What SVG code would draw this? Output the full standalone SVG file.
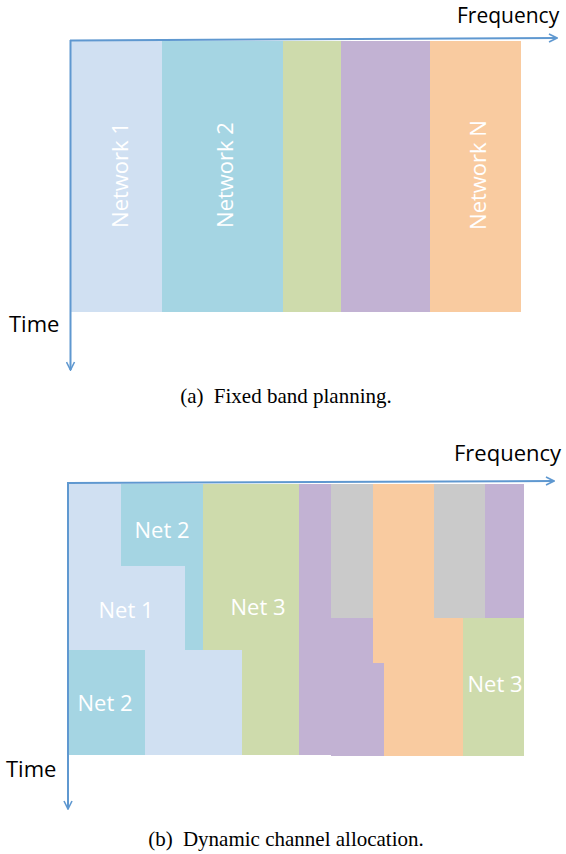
<svg xmlns="http://www.w3.org/2000/svg" width="566" height="854" viewBox="0 0 566 854">
<style>
.lb{fill:#D0E0F2}.tl{fill:#A5D5E3}.gr{fill:#CEDBAC}.pu{fill:#C2B2D3}.or{fill:#F9CBA0}.gy{fill:#CACACA}
.ax{stroke:#5F98D0;stroke-width:2;fill:none}
.lbl{font-family:"Open Sans","Liberation Sans",sans-serif;font-size:22px;fill:#FFFFFF;text-anchor:middle}
.axl{font-family:"Open Sans","Liberation Sans",sans-serif;font-size:22px;fill:#000000}
.cap{font-family:"Liberation Serif","DejaVu Serif",serif;font-size:21px;fill:#000000;text-anchor:middle}
</style>
<defs>
<marker id="arr" viewBox="0 0 10 10" refX="9" refY="5" markerWidth="5" markerHeight="5" orient="auto" markerUnits="strokeWidth">
<path d="M1,1 L9,5 L1,9" fill="none" stroke="#5F98D0" stroke-width="1.6"/>
</marker>
</defs>

<!-- (a) Fixed band planning -->
<g id="a-network1"><rect class="lb" x="71" y="41" width="91" height="271"/>
<text class="lbl" transform="translate(128,175) rotate(-90)">Network 1</text></g>
<g id="a-network2"><rect class="tl" x="162" y="41" width="121" height="271"/>
<text class="lbl" transform="translate(233,175) rotate(-90)">Network 2</text></g>
<g id="a-band3"><rect class="gr" x="283" y="41" width="58" height="271"/></g>
<g id="a-band4"><rect class="pu" x="341" y="41" width="89" height="271"/></g>
<g id="a-networkN"><rect class="or" x="430" y="41" width="91" height="271"/>
<text class="lbl" transform="translate(486,175) rotate(-90)">Network N</text></g>

<!-- (b) Dynamic channel allocation -->
<g id="b-net1"><polygon class="lb" points="69,484 121,484 121,566 185,566 185,650 242,650 242,755 69,755"/>
<text class="lbl" x="126" y="618">Net 1</text></g>
<g id="b-net2-top"><polygon class="tl" points="121,484 203,484 203,650 185,650 185,566 121,566"/>
<text class="lbl" x="162" y="538">Net 2</text></g>
<g id="b-net2-bottom"><rect class="tl" x="69" y="650" width="76" height="105"/>
<text class="lbl" x="105" y="711">Net 2</text></g>
<g id="b-net3-left"><polygon class="gr" points="203,484 299,484 299,755 242,755 242,650 203,650"/>
<text class="lbl" x="258" y="615">Net 3</text></g>
<g id="b-purple1"><polygon class="pu" points="299,484 331,484 331,618 373,618 373,663 384,663 384,756 331,756 331,755 299,755"/></g>
<g id="b-gray1"><rect class="gy" x="331" y="484" width="42" height="134"/></g>
<g id="b-orange"><polygon class="or" points="373,484 434,484 434,618 463,618 463,756 384,756 384,663 373,663"/></g>
<g id="b-gray2"><rect class="gy" x="434" y="484" width="51" height="134"/></g>
<g id="b-purple2"><rect class="pu" x="485" y="484" width="39" height="134"/></g>
<g id="b-net3-right"><rect class="gr" x="463" y="618" width="61" height="138"/>
<text class="lbl" x="495" y="692">Net 3</text></g>

<g id="connectors">
<line class="ax" x1="70" y1="40.5" x2="557" y2="38" marker-end="url(#arr)"/>
<line class="ax" x1="70.5" y1="40" x2="70.5" y2="370" marker-end="url(#arr)"/>
<line class="ax" x1="67" y1="483" x2="554" y2="481" marker-end="url(#arr)"/>
<line class="ax" x1="68" y1="483" x2="68" y2="809" marker-end="url(#arr)"/>
</g>

<g id="axis-labels">
<text class="axl" x="457" y="22.5" style="font-size:21px">Frequency</text>
<text class="axl" x="9" y="332">Time</text>
<text class="axl" x="454" y="461">Frequency</text>
<text class="axl" x="6" y="777">Time</text>
</g>

<g id="captions">
<text class="cap" x="286" y="403">(a)<tspan dx="5"> Fixed band planning.</tspan></text>
<text class="cap" x="286" y="846">(b)<tspan dx="5"> Dynamic channel allocation.</tspan></text>
</g>
</svg>
